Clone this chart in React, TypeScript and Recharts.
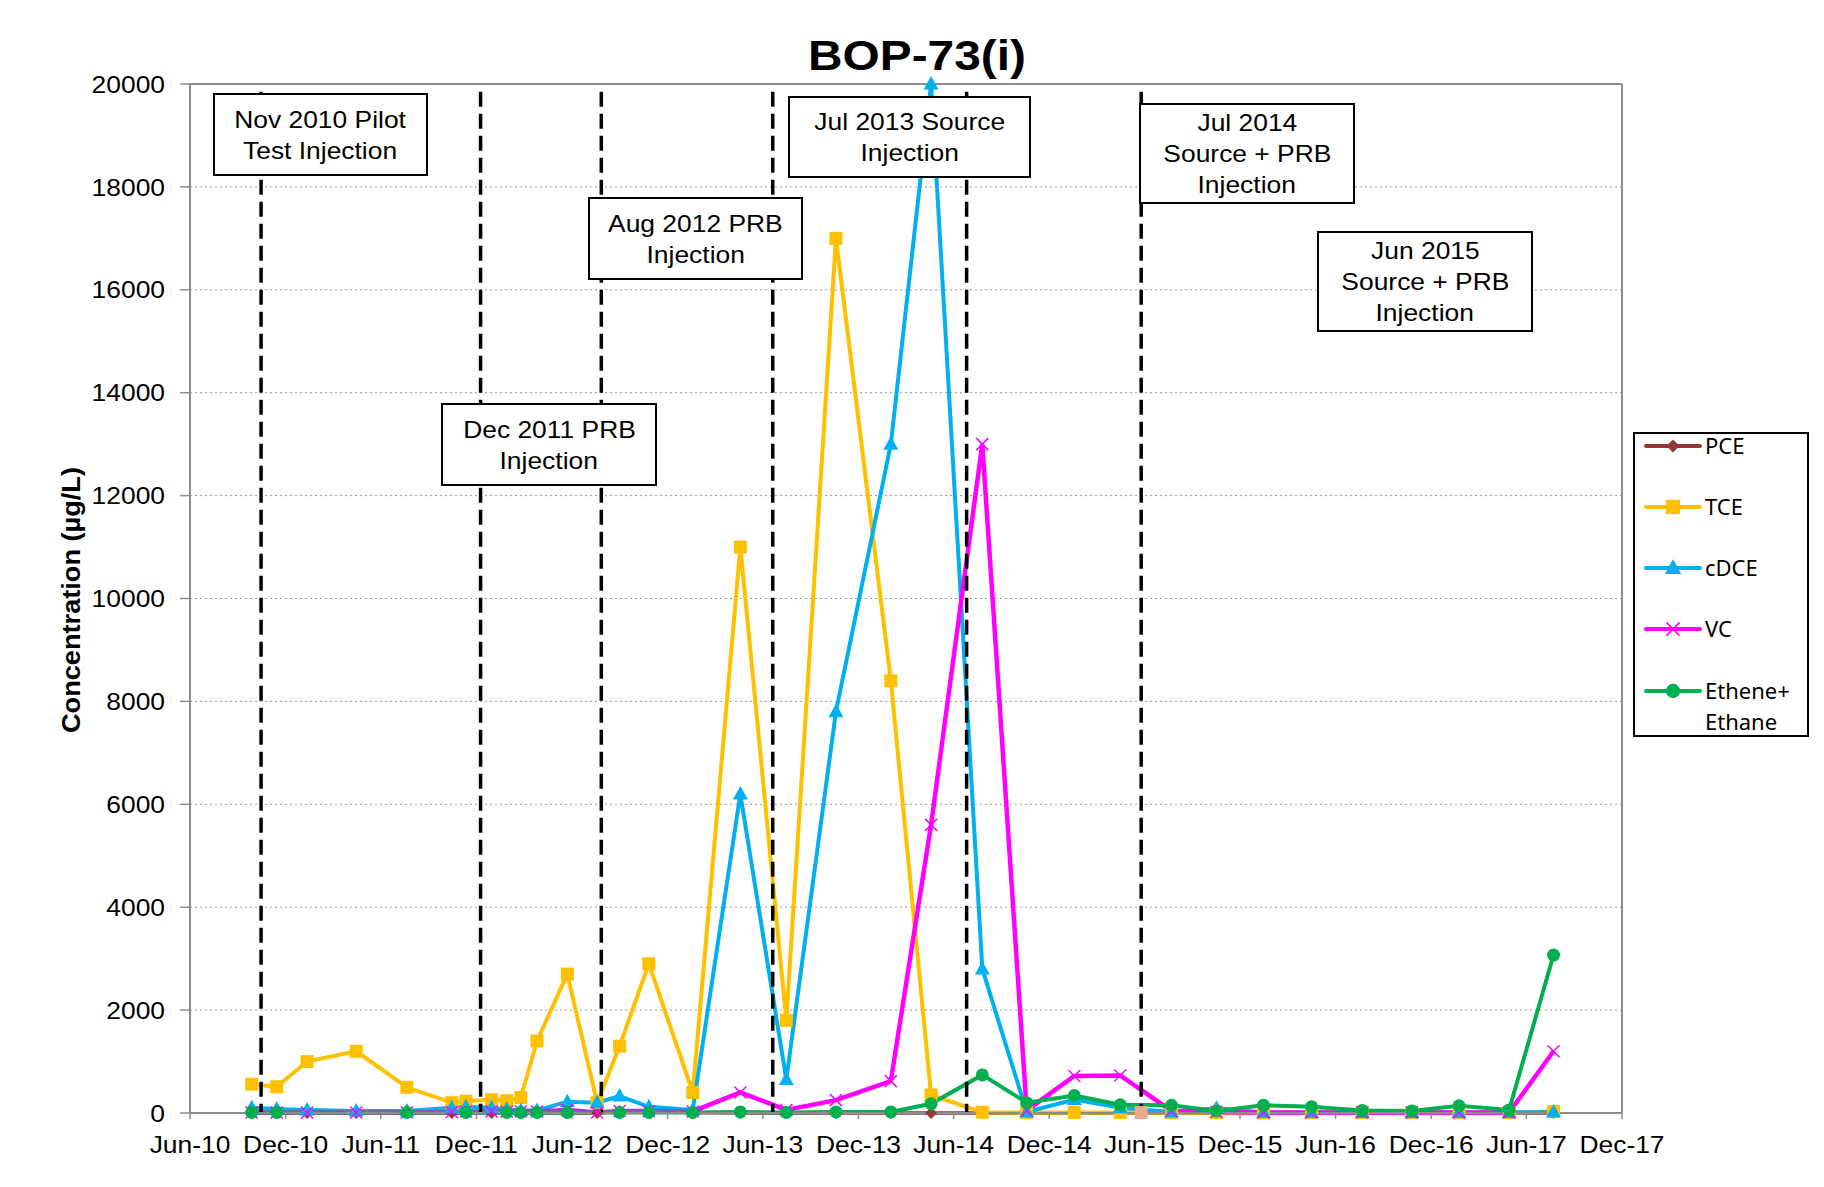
import React from "react";
import {
  LineChart,
  Line,
  XAxis,
  YAxis,
  CartesianGrid,
  Legend,
  ReferenceLine,
} from "recharts";

// sampling dates
const sampleDates = [
  "2010-09-27", "2010-11-14", "2011-01-11", "2011-04-15", "2011-07-21",
  "2011-10-15", "2011-11-11", "2011-12-30", "2012-01-28", "2012-02-24",
  "2012-03-26", "2012-05-23", "2012-07-19", "2012-08-31", "2012-10-26",
  "2013-01-18", "2013-04-19", "2013-07-16", "2013-10-19", "2014-02-01",
  "2014-04-19", "2014-07-26", "2014-10-19", "2015-01-18", "2015-04-16",
  "2015-05-26", "2015-07-23", "2015-10-17", "2016-01-15", "2016-04-16",
  "2016-07-22", "2016-10-25", "2017-01-23", "2017-04-29", "2017-07-23",
];

const pce = [0, 0, 0, 0, 0, 0, 0, 0, 0, 0, 0, 0, 0, 40, 40, 10, 0, 0, 0, 0, 0, 0, 0, 0, 0, null, 0, 0, 0, 0, 0, 0, 0, 0, 0];
const tce = [560, 510, 1000, 1200, 500, 200, 230, 260, 240, 300, 1400, 2700, 200, 1300, 2900, 400, 11000, 1800, 17000, 8400, 350, 15, 10, 10, 10, 10, 10, 10, 10, 10, 10, 10, 10, 10, 30];
const cdce = [100, 80, 60, 40, 40, 100, 120, 100, 70, 50, 50, 220, 200, 330, 120, 60, 6200, 650, 7800, 13000, 20000, 2800, 20, 260, 100, null, 20, 90, 10, 10, 10, 10, 10, 10, 20];
const vc = [10, 10, 10, 10, 10, 20, 30, 30, 30, 30, 30, 60, 10, 40, 40, 30, 400, 60, 250, 620, 5600, 13000, 50, 720, 730, null, 40, 20, 10, 10, 10, 10, 10, 10, 1200];
const ethene = [10, 10, null, null, 10, null, 10, null, 10, 10, 10, 10, null, 10, 10, 10, 20, 10, 20, 20, 180, 740, 200, 340, 160, null, 150, 40, 150, 120, 50, 40, 140, 60, 3070];

// TCE sample drawn with a different marker fill
const tceOddDate = "2015-05-26";

const injectionDates = ["2010-10-15", "2011-12-09", "2012-07-27", "2013-06-20", "2014-06-26", "2015-05-26"];

const axisTickDates = [
  "2010-06-01", "2010-12-01", "2011-06-01", "2011-12-01", "2012-06-01", "2012-12-01",
  "2013-06-01", "2013-12-01", "2014-06-01", "2014-12-01", "2015-06-01", "2015-12-01",
  "2016-06-01", "2016-12-01", "2017-06-01", "2017-12-01",
];
const yTicks = [0, 2000, 4000, 6000, 8000, 10000, 12000, 14000, 16000, 18000, 20000];

const annotations = [
  { lines: ["Nov 2010 Pilot", "Test Injection"], left: 205, top: 85, width: 215, height: 83 },
  { lines: ["Dec 2011 PRB", "Injection"], left: 433, top: 395, width: 216, height: 83 },
  { lines: ["Aug 2012 PRB", "Injection"], left: 580, top: 189, width: 215, height: 83 },
  { lines: ["Jul 2013 Source", "Injection"], left: 780, top: 88, width: 243, height: 82 },
  { lines: ["Jul 2014", "Source + PRB", "Injection"], left: 1131, top: 95, width: 216, height: 101 },
  { lines: ["Jun 2015", "Source + PRB", "Injection"], left: 1309, top: 223, width: 216, height: 101 },
];

const MONTHS = ["Jan", "Feb", "Mar", "Apr", "May", "Jun", "Jul", "Aug", "Sep", "Oct", "Nov", "Dec"];
const ts = (s: string) => Date.parse(s + "T00:00:00Z");

const data = sampleDates.map((d, i) => ({
  t: ts(d),
  pce: pce[i],
  tce: tce[i],
  cdce: cdce[i],
  vc: vc[i],
  ethene: ethene[i],
}));

const colors: Record<string, string> = {
  pce: "#953735",
  tce: "#FFC000",
  cdce: "#00B0F0",
  vc: "#FF00FF",
  ethene: "#00B050",
};

const GRAY = "#8c8c8c";

function marker(kind: string, cx: number, cy: number, color: string, s = 1) {
  switch (kind) {
    case "diamond":
      return <polygon points={`${cx},${cy - 6 * s} ${cx + 6 * s},${cy} ${cx},${cy + 6 * s} ${cx - 6 * s},${cy}`} fill={color} />;
    case "square":
      return <rect x={cx - 6.5 * s} y={cy - 6.5 * s} width={13 * s} height={13 * s} fill={color} />;
    case "triangle":
      return <polygon points={`${cx},${cy - 8 * s} ${cx - 7.5 * s},${cy + 5.5 * s} ${cx + 7.5 * s},${cy + 5.5 * s}`} fill={color} />;
    case "x":
      return (
        <g stroke={color} strokeWidth={1.5}>
          <line x1={cx - 6 * s} y1={cy - 6 * s} x2={cx + 6 * s} y2={cy + 6 * s} />
          <line x1={cx - 6 * s} y1={cy + 6 * s} x2={cx + 6 * s} y2={cy - 6 * s} />
        </g>
      );
    default:
      return <circle cx={cx} cy={cy} r={6.5 * s} fill={color} />;
  }
}

const dotFor = (kind: string, color: string) => (p: any) => {
  const { cx, cy, index, value, payload } = p;
  if (cx == null || cy == null || value == null) return <g key={`${kind}-${index}`} />;
  const fill = kind === "square" && payload && payload.t === ts(tceOddDate) ? "#EBAA8C" : color;
  return <g key={`${kind}-${index}`}>{marker(kind, cx, cy, fill)}</g>;
};

const series = [
  { key: "pce", name: "PCE", kind: "diamond", width: 3.5 },
  { key: "tce", name: "TCE", kind: "square", width: 4 },
  { key: "cdce", name: "cDCE", kind: "triangle", width: 4 },
  { key: "vc", name: "VC", kind: "x", width: 4.5 },
  { key: "ethene", name: "Ethene+ Ethane", kind: "circle", width: 4 },
];

const XTick = (props: any) => {
  const { x, y, payload } = props;
  const d = new Date(payload.value);
  const label = `${MONTHS[d.getUTCMonth()]}-${String(d.getUTCFullYear()).slice(2)}`;
  return (
    <text transform={`translate(${x},${y + 34}) scale(1.1,1)`} textAnchor="middle" fontSize={24} fill="#000">
      {label}
    </text>
  );
};

const YTick = (props: any) => {
  const { x, y, payload } = props;
  return (
    <text transform={`translate(${x - 15},${y + 8.6}) scale(1.1,1)`} textAnchor="end" fontSize={24} fill="#000">
      {payload.value}
    </text>
  );
};

const renderLegend = (props: any) => {
  const payload: any[] = props.payload || [];
  const rowY = [14, 75, 136, 197, 259];
  return (
    <svg width={176} height={305} style={{ display: "block", overflow: "visible" }}>
      <rect x={1} y={1} width={174} height={303} fill="#fff" stroke="#000" strokeWidth={2} />
      {series.map((s, i) => {
        const entry = payload.find((e) => e.dataKey === s.key);
        const c = colors[s.key];
        const y = rowY[i];
        const words = String(entry ? entry.value : s.name).split(" ");
        return (
          <g key={s.key}>
            <line x1={13} y1={y} x2={67} y2={y} stroke={c} strokeWidth={4} strokeLinecap="round" />
            {marker(s.kind, 40, y, c, 1.1)}
            {words.map((w, j) => (
              <text key={j} x={72} y={y + 8 + j * 31} fontSize={22} fontFamily="'Noto Sans', sans-serif" fill="#000">
                {w}
              </text>
            ))}
          </g>
        );
      })}
    </svg>
  );
};

export default function App() {
  const x0 = ts(axisTickDates[0]);
  const x1 = ts(axisTickDates[axisTickDates.length - 1]);
  return (
    <div style={{ position: "relative", width: 1808, height: 1170, fontFamily: "'Liberation Sans', Arial, sans-serif" }}>
      <div style={{ position: "absolute", left: -1, top: -2, width: 1810, height: 1172, borderLeft: "1px solid #222", borderTop: "1px solid #222" }} />
      <LineChart width={1808} height={1170} data={data} margin={{ top: 76, right: 194, left: 0, bottom: 25 }}>
        <CartesianGrid vertical={false} stroke="#9a9a9a" strokeDasharray="2 3" />
        <XAxis
          dataKey="t"
          type="number"
          scale="time"
          domain={[x0, x1]}
          ticks={axisTickDates.map(ts)}
          interval={0}
          height={40}
          tickSize={6}
          tickMargin={0}
          axisLine={{ stroke: GRAY, strokeWidth: 2 }}
          tickLine={{ stroke: GRAY, strokeWidth: 1.5 }}
          tick={<XTick />}
        />
        <YAxis
          type="number"
          domain={[0, 20000]}
          ticks={yTicks}
          interval={0}
          width={182}
          tickSize={10}
          tickMargin={0}
          axisLine={{ stroke: GRAY, strokeWidth: 2 }}
          tickLine={{ stroke: GRAY, strokeWidth: 1.5 }}
          tick={<YTick />}
        />
        <ReferenceLine y={20000} stroke={GRAY} strokeWidth={2} />
        <ReferenceLine x={x1} stroke={GRAY} strokeWidth={2} />
        {series.map((s) => (
          <Line
            key={s.key}
            type="linear"
            dataKey={s.key}
            name={s.name}
            stroke={colors[s.key]}
            strokeWidth={s.width}
            dot={dotFor(s.kind, colors[s.key])}
            activeDot={false}
            connectNulls
            isAnimationActive={false}
          />
        ))}
        {injectionDates.map((d) => (
          <ReferenceLine
            key={d}
            segment={[{ x: ts(d), y: 19850 }, { x: ts(d), y: 0 }]}
            stroke="#000"
            strokeWidth={3.5}
            strokeDasharray="15 7"
          />
        ))}
        <Legend
          layout="vertical"
          align="center"
          verticalAlign="middle"
          content={renderLegend}
          wrapperStyle={{ position: "absolute", left: 1625, top: 424, width: 176, height: 305 }}
        />
      </LineChart>
      <svg width={1808} height={1170} style={{ position: "absolute", left: 0, top: 0, pointerEvents: "none", zIndex: 2 }}>
        <text x={909} y={62} textAnchor="middle" fontSize={43} fontWeight="bold" textLength={218} lengthAdjust="spacingAndGlyphs" fill="#000">
          BOP-73(i)
        </text>
        <text transform="translate(72,592) rotate(-90)" textAnchor="middle" fontSize={25} fontWeight="bold" textLength={266} lengthAdjust="spacingAndGlyphs" fill="#000">
          Concentration (µg/L)
        </text>
      </svg>
      {annotations.map((a, i) => (
        <div
          key={i}
          style={{
            position: "absolute",
            left: a.left,
            top: a.top,
            width: a.width,
            height: a.height,
            boxSizing: "border-box",
            border: "2px solid #000",
            background: "#fff",
            zIndex: 3,
            display: "flex",
            flexDirection: "column",
            justifyContent: "center",
            alignItems: "center",
            fontSize: 24,
            lineHeight: "31px",
            color: "#000",
          }}
        >
          {a.lines.map((l, j) => (
            <span key={j} style={{ display: "block", transform: "scaleX(1.1)", whiteSpace: "nowrap" }}>
              {l}
            </span>
          ))}
        </div>
      ))}
    </div>
  );
}
